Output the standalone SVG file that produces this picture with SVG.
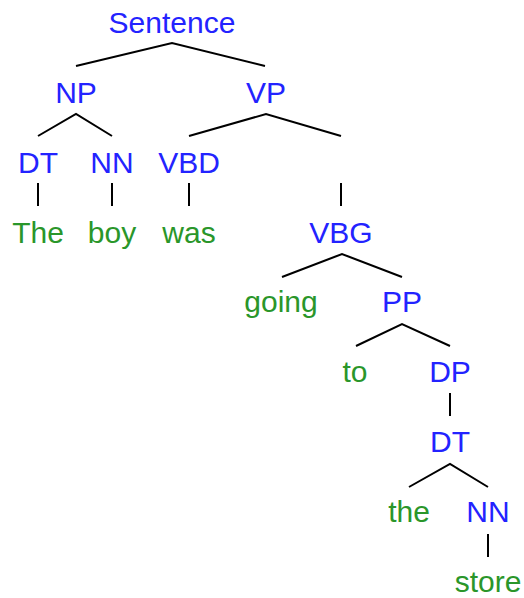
<svg xmlns="http://www.w3.org/2000/svg" width="524" height="598" viewBox="0 0 524 598">
<style>
text{font-family:"Liberation Sans",Arial,sans-serif;font-size:30px;text-anchor:middle}
.c{fill:#2323ff}
.w{fill:#2a962a}
#edges line,#edges polyline{stroke:#000;stroke-width:2;fill:none}
</style>
<rect width="524" height="598" fill="#fff"/>
<g id="edges">
<polyline points="76,66 172,43 265,66"/>
<polyline points="38,136 76,114 112,136"/>
<polyline points="189,136 266,114 341,136"/>
<line x1="38" y1="183" x2="38" y2="206"/>
<line x1="112" y1="183" x2="112" y2="206"/>
<line x1="189" y1="183" x2="189" y2="206"/>
<line x1="341" y1="183" x2="341" y2="206"/>
<polyline points="282,277 342,254 402,277"/>
<polyline points="356,346 402,324 450,346"/>
<line x1="450" y1="393" x2="450" y2="416"/>
<polyline points="409,487 450,464 488,487"/>
<line x1="488" y1="534" x2="488" y2="557"/>
</g>
<g id="n-sentence"><text class="c" x="172" y="33">Sentence</text></g>
<g id="n-np"><text class="c" x="76" y="103">NP</text></g>
<g id="n-vp"><text class="c" x="266" y="103">VP</text></g>
<g id="n-dt1"><text class="c" x="38" y="173">DT</text></g>
<g id="n-nn1"><text class="c" x="112" y="173">NN</text></g>
<g id="n-vbd"><text class="c" x="189" y="173">VBD</text></g>
<g id="n-the1"><text class="w" x="38" y="243">The</text></g>
<g id="n-boy"><text class="w" x="112" y="243">boy</text></g>
<g id="n-was"><text class="w" x="189" y="243">was</text></g>
<g id="n-vbg"><text class="c" x="341" y="243">VBG</text></g>
<g id="n-going"><text class="w" x="281" y="312">going</text></g>
<g id="n-pp"><text class="c" x="402" y="312">PP</text></g>
<g id="n-to"><text class="w" x="355" y="382">to</text></g>
<g id="n-dp"><text class="c" x="450" y="382">DP</text></g>
<g id="n-dt2"><text class="c" x="450" y="452">DT</text></g>
<g id="n-the2"><text class="w" x="409" y="522">the</text></g>
<g id="n-nn2"><text class="c" x="488" y="522">NN</text></g>
<g id="n-store"><text class="w" x="488" y="592">store</text></g>
</svg>
